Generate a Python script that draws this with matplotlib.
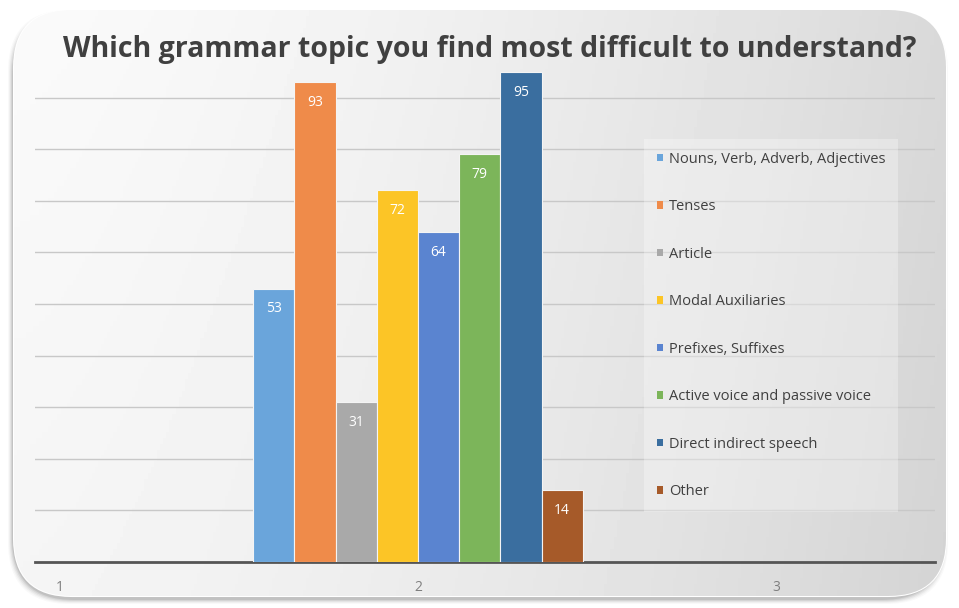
import numpy as np
import matplotlib.pyplot as plt
from matplotlib.patches import FancyBboxPatch, Patch

# data
categories = [1, 2, 3]
topics = ["Nouns, Verb, Adverb, Adjectives", "Tenses", "Article", "Modal Auxiliaries",
          "Prefixes, Suffixes", "Active voice and passive voice", "Direct indirect speech", "Other"]
counts = [53, 93, 31, 72, 64, 79, 95, 14]
colors = ["#6aa5db", "#ef8b4a", "#a9a9a9", "#fcc526", "#5a84d0", "#7cb55a", "#3a6e9f", "#a65a29"]
title = "Which grammar topic you find most difficult to understand?"

W, H = 959, 608
plt.rcParams["font.family"] = ["Open Sans", "DejaVu Sans"]
fig = plt.figure(figsize=(W / 100, H / 100), dpi=100)
fig.patch.set_facecolor("white")

# rounded card with a soft shadow
bg = fig.add_axes([0, 0, 1, 1])
bg.set_xlim(0, W)
bg.set_ylim(0, H)
bg.axis("off")
for k, a in enumerate([0.04, 0.06, 0.09, 0.13, 0.18]):
    sh = FancyBboxPatch((8 + k, 4 + k), 940 - 2 * k, 594 - 2 * k,
                        boxstyle="round,pad=0,rounding_size=62",
                        fc="#707070", ec="none", alpha=a)
    bg.add_patch(sh)
card = FancyBboxPatch((14, 12), 932, 586, boxstyle="round,pad=0,rounding_size=58",
                      fc="none", ec="#ffffff", lw=1.5)
bg.add_patch(card)
gx = np.linspace(0, 1, 300)
gy = np.linspace(0, 1, 100)[:, None]
grad = 0.96 - 0.13 * gx ** 1.5 + 0.02 * gy
bg.imshow(grad, extent=(14, 946, 12, 598), cmap="gray", vmin=0, vmax=1,
          aspect="auto", clip_path=card, zorder=1, origin="lower")

fig.text(490 / W, 1 - 50 / H, title, ha="center", va="center",
         fontsize=20.5, fontweight="bold", color="#404040")

# chart
ax = fig.add_axes([35 / W, (H - 562) / H, 900 / W, 516 / H])
ax.patch.set_alpha(0)
bw = 0.115
for i, (t, v, c) in enumerate(zip(topics, counts, colors)):
    bars = ax.bar(categories[1] + (i - 3.5) * bw, v, width=bw, color=c,
                  edgecolor="#f4f4f4", linewidth=0.8, label=t, zorder=3)
    ax.bar_label(bars, padding=-20, color="white", fontsize=10, zorder=4)

ax.set_xlim(1 - 25 / 358, 3 + 159 / 358)
ax.set_ylim(0, 100)
ax.set_xticks(categories)
ax.set_yticks(range(10, 100, 10))
ax.set_yticklabels([])
ax.grid(axis="y", color="#c8c8c8", linewidth=1, zorder=0)
ax.tick_params(length=0, pad=13, labelsize=10, labelcolor="#7f7f7f")
for s in ["left", "right", "top"]:
    ax.spines[s].set_visible(False)
ax.spines["bottom"].set_color("#555555")
ax.spines["bottom"].set_linewidth(2)

handles = [Patch(fc=c) for c in colors]
leg = ax.legend(handles, topics, loc="upper left", bbox_to_anchor=(637 / W, 1 - 132 / H),
                bbox_transform=fig.transFigure, fontsize=10.5, frameon=True,
                handlelength=0.42, handleheight=0.42, handletextpad=0.4,
                labelspacing=2.23, borderpad=0.85, fancybox=False)
leg.get_frame().set_facecolor("white")
leg.get_frame().set_alpha(0.3)
leg.get_frame().set_edgecolor("none")
for t in leg.get_texts():
    t.set_color("#404040")

fig.savefig("out.png", dpi=100)
